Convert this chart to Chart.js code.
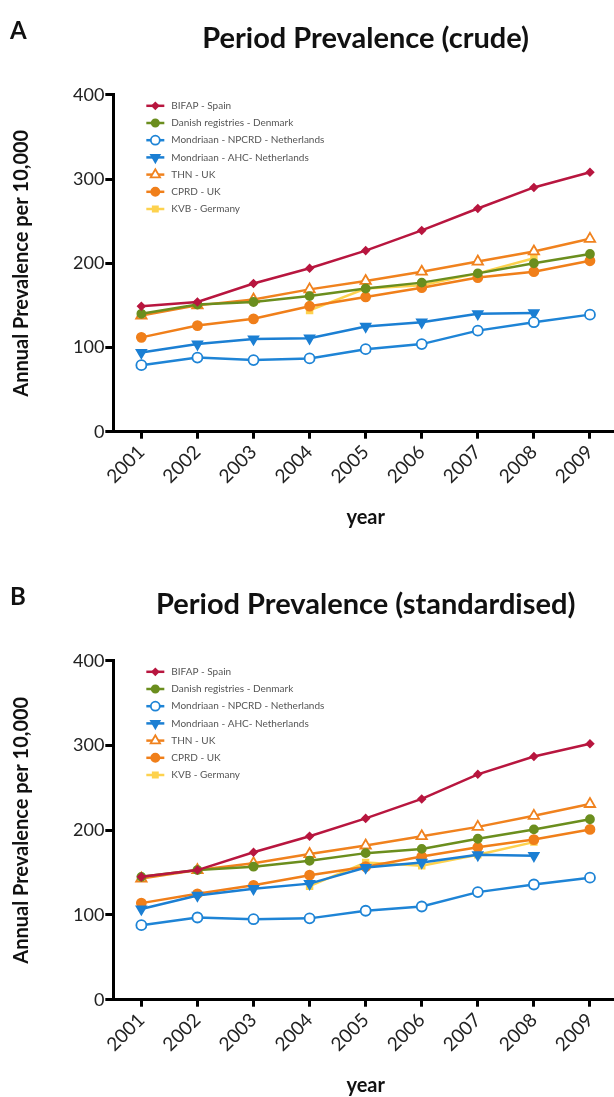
<!DOCTYPE html>
<html>
<head>
<meta charset="utf-8">
<script src="https://cdn.jsdelivr.net/npm/chart.js@4"></script>
<style>
  html, body { margin: 0; background: #fff; overflow: hidden; }
  .panel { width: 640px; position: relative; }
</style>
</head>
<body>
<div class="panel" style="height:560px"><canvas id="chartA"></canvas></div>
<div class="panel" style="height:542px"><canvas id="chartB"></canvas></div>
<script>
const years = ['2001', '2002', '2003', '2004', '2005', '2006', '2007', '2008', '2009'];
const yTicks = [0, 100, 200, 300, 400];
const seriesNames = [
  'BIFAP - Spain',
  'Danish registries - Denmark',
  'Mondriaan - NPCRD - Netherlands',
  'Mondriaan - AHC- Netherlands',
  'THN - UK',
  'CPRD - UK',
  'KVB - Germany'
];

// panel A, crude
const bifapCrude  = [149, 154, 176, 194, 215, 239, 265, 290, 308];
const danishCrude = [140, 151, 154, 161, 170, 177, 188, 200, 211];
const npcrdCrude  = [79, 88, 85, 87, 98, 104, 120, 130, 139];
const ahcCrude    = [94, 104, 110, 111, 125, 130, 140, 141, null];
const thnCrude    = [138, 150, 157, 169, 179, 190, 202, 214, 229];
const cprdCrude   = [112, 126, 134, 149, 160, 171, 183, 190, 203];
const kvbCrude    = [null, null, null, 144, 170, 174, 188, 206, null];

// panel B, standardised
const bifapStd  = [145, 153, 174, 193, 214, 237, 266, 287, 302];
const danishStd = [145, 153, 157, 164, 173, 178, 190, 201, 213];
const npcrdStd  = [88, 97, 95, 96, 105, 110, 127, 136, 144];
const ahcStd    = [107, 123, 131, 137, 156, 162, 171, 170, null];
const thnStd    = [143, 153, 161, 172, 182, 193, 204, 217, 231];
const cprdStd   = [114, 125, 135, 147, 157, 169, 180, 189, 201];
const kvbStd    = [null, null, null, 134, 162, 158, 171, 186, null];

const colors = ['#b8163f', '#6b8e1e', '#1e84d6', '#1b7fd3', '#f0821e', '#f07f1a', '#fdd24e'];

const FONT = 'Lato, "Open Sans", sans-serif';

function makeSets(values) {
  const styles = [
    { pointStyle: 'rectRot', pointRadius: 3.5, fill: true },
    { pointStyle: 'circle', pointRadius: 4, fill: true },
    { pointStyle: 'circle', pointRadius: 5, fill: false },
    { pointStyle: 'triangle', pointRadius: 5.5, fill: true, rotation: 180 },
    { pointStyle: 'triangle', pointRadius: 6, fill: false },
    { pointStyle: 'circle', pointRadius: 4.5, fill: true },
    { pointStyle: 'rect', pointRadius: 4, fill: true }
  ];
  return values.map((v, i) => ({
    label: seriesNames[i],
    data: v,
    borderColor: colors[i],
    backgroundColor: colors[i],
    borderWidth: 2.5,
    pointStyle: styles[i].pointStyle,
    pointRadius: styles[i].pointRadius,
    pointRotation: styles[i].rotation || 0,
    pointBackgroundColor: styles[i].fill ? colors[i] : '#fff',
    pointBorderColor: colors[i],
    pointBorderWidth: 1.8,
    tension: 0,
    spanGaps: false
  }));
}

// legend drawn inside the plot, top-left, like the original figure
const insideLegend = {
  id: 'insideLegend',
  afterDatasetsDraw(chart, args, opts) {
    const ctx = chart.ctx;
    const area = chart.chartArea;
    ctx.save();
    chart.data.datasets.forEach((ds, i) => {
      const x0 = area.left + opts.left;
      const y = area.top + opts.top + i * opts.rowHeight;
      ctx.strokeStyle = ds.borderColor;
      ctx.lineWidth = 2.5;
      ctx.beginPath();
      ctx.moveTo(x0, y);
      ctx.lineTo(x0 + 18, y);
      ctx.stroke();
      ctx.fillStyle = ds.pointBackgroundColor;
      ctx.lineWidth = ds.pointBorderWidth;
      Chart.helpers.drawPoint(ctx, {
        pointStyle: ds.pointStyle,
        rotation: ds.pointRotation,
        radius: ds.pointRadius * 0.9,
        borderWidth: ds.pointBorderWidth
      }, x0 + 9, y);
      ctx.fillStyle = '#555';
      ctx.font = opts.fontSize + 'px ' + FONT;
      ctx.textBaseline = 'middle';
      ctx.textAlign = 'left';
      ctx.fillText(ds.label, x0 + 25, y);
    });
    ctx.restore();
  }
};

const panelLetter = {
  id: 'panelLetter',
  afterDraw(chart, args, opts) {
    const ctx = chart.ctx;
    ctx.save();
    ctx.fillStyle = '#111';
    ctx.font = 'bold 24px ' + FONT;
    ctx.textBaseline = 'top';
    ctx.fillText(opts.text, 10, opts.y);
    ctx.restore();
  }
};

function makeChart(id, letter, title, values, pad) {
  new Chart(document.getElementById(id), {
    type: 'line',
    data: { labels: years, datasets: makeSets(values) },
    plugins: [insideLegend, panelLetter],
    options: {
      responsive: true,
      maintainAspectRatio: false,
      animation: false,
      layout: { padding: { left: 10, right: pad.right, top: 0, bottom: pad.bottom } },
      plugins: {
        legend: { display: false },
        tooltip: { enabled: false },
        title: {
          display: true,
          fullSize: false,
          text: title,
          color: '#111',
          font: { family: FONT, size: 29, weight: 'bold' },
          padding: { top: pad.titleTop, bottom: pad.titleBottom }
        },
        insideLegend: { left: 33, top: 11, rowHeight: 17.2, fontSize: 10 },
        panelLetter: { text: letter, y: pad.letterY }
      },
      scales: {
        x: {
          offset: true,
          border: { display: true, color: '#000', width: 3 },
          grid: { drawOnChartArea: false, drawTicks: true, tickLength: 7, color: '#000', lineWidth: 3 },
          ticks: {
            color: '#222',
            font: { family: FONT, size: 19 },
            maxRotation: 45,
            minRotation: 45,
            padding: 2
          },
          title: {
            display: true,
            text: 'year',
            color: '#111',
            font: { family: FONT, size: 20, weight: 'bold' },
            padding: { top: 16 }
          }
        },
        y: {
          min: 0,
          max: 400,
          afterBuildTicks(scale) { scale.ticks = yTicks.map(v => ({ value: v })); },
          border: { display: true, color: '#000', width: 3 },
          grid: { drawOnChartArea: false, drawTicks: true, tickLength: 8, color: '#000', lineWidth: 3 },
          ticks: {
            color: '#222',
            font: { family: FONT, size: 18 },
            padding: 1
          },
          title: {
            display: true,
            text: 'Annual Prevalence per 10,000',
            color: '#111',
            font: { family: FONT, size: 20, weight: 'bold' },
            padding: { top: 0, bottom: 38 }
          }
        }
      }
    }
  });
}

makeChart('chartA', 'A', 'Period Prevalence (crude)',
  [bifapCrude, danishCrude, npcrdCrude, ahcCrude, thnCrude, cprdCrude, kvbCrude],
  { titleTop: 21, titleBottom: 39, bottom: 26, right: 22, letterY: 19 });

makeChart('chartB', 'B', 'Period Prevalence (standardised)',
  [bifapStd, danishStd, npcrdStd, ahcStd, thnStd, cprdStd, kvbStd],
  { titleTop: 27, titleBottom: 39, bottom: 0, right: 22, letterY: 25 });
</script>
</body>
</html>
